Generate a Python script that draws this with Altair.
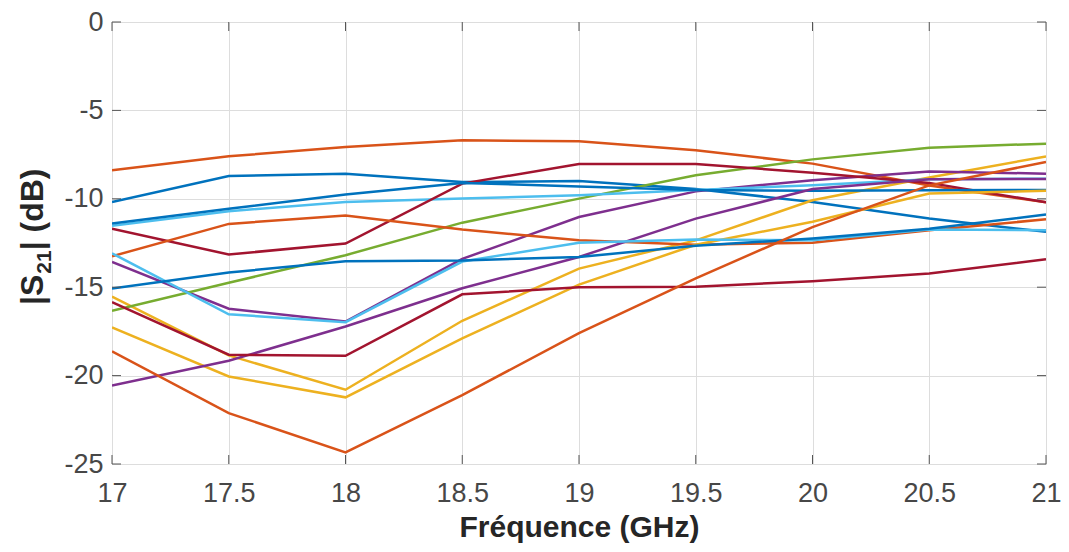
import altair as alt
import pandas as pd

freq = [17, 17.5, 18, 18.5, 19, 19.5, 20, 20.5, 21]

blue_a = [-10.18, -8.71, -8.58, -9.05, -9.0, -9.45, -10.18, -11.12, -11.87]
blue_b = [-11.4, -10.56, -9.76, -9.1, -9.3, -9.5, -9.55, -9.52, -9.5]
blue_c = [-15.08, -14.17, -13.53, -13.49, -13.29, -12.66, -12.25, -11.7, -10.89]
orange_a = [-8.39, -7.6, -7.07, -6.69, -6.75, -7.26, -8.01, -9.25, -10.2]
orange_b = [-13.25, -11.42, -10.95, -11.74, -12.34, -12.6, -12.48, -11.78, -11.16]
orange_c = [-18.63, -22.12, -24.34, -21.1, -17.6, -14.5, -11.6, -9.24, -7.92]
yellow_a = [-15.53, -18.86, -20.8, -16.9, -13.95, -12.35, -10.08, -8.8, -7.6]
yellow_b = [-17.28, -20.05, -21.23, -17.9, -14.85, -12.6, -11.3, -9.7, -9.55]
purple_a = [-13.57, -16.22, -16.94, -13.4, -11.03, -9.58, -8.95, -8.45, -8.58]
purple_b = [-20.56, -19.16, -17.22, -15.06, -13.29, -11.12, -9.45, -8.9, -8.88]
green_a = [-16.34, -14.75, -13.19, -11.35, -9.99, -8.67, -7.77, -7.11, -6.88]
lightblue_a = [-11.53, -10.7, -10.18, -9.99, -9.8, -9.5, -9.24, -8.9, -8.86]
lightblue_b = [-13.08, -16.53, -16.98, -13.55, -12.48, -12.3, -12.35, -11.74, -11.78]
darkred_a = [-11.69, -13.15, -12.53, -9.14, -8.03, -8.03, -8.52, -9.1, -10.2]
darkred_b = [-15.85, -18.82, -18.88, -15.4, -15.0, -14.97, -14.66, -14.23, -13.42]

series = {
    "blue_a": (blue_a, "#0072BD"),
    "orange_a": (orange_a, "#D95319"),
    "yellow_a": (yellow_a, "#EDB120"),
    "purple_a": (purple_a, "#7E2F8E"),
    "green_a": (green_a, "#77AC30"),
    "lightblue_a": (lightblue_a, "#4DBEEE"),
    "darkred_a": (darkred_a, "#A2142F"),
    "blue_b": (blue_b, "#0072BD"),
    "orange_b": (orange_b, "#D95319"),
    "yellow_b": (yellow_b, "#EDB120"),
    "purple_b": (purple_b, "#7E2F8E"),
    "lightblue_b": (lightblue_b, "#4DBEEE"),
    "darkred_b": (darkred_b, "#A2142F"),
    "blue_c": (blue_c, "#0072BD"),
    "orange_c": (orange_c, "#D95319"),
}

x_ticks = [17, 17.5, 18, 18.5, 19, 19.5, 20, 20.5, 21]
y_ticks = [-25, -20, -15, -10, -5, 0]

# y-axis title pieces: "|S" + subscript "21" + "| (dB)"
ytitle_parts = ["|S", "21", "| (dB)"]

rows = []
for name, (vals, col) in series.items():
    for f, v in zip(freq, vals):
        rows.append({"f": f, "s21": v, "series": name})
df = pd.DataFrame(rows)

W, H = 934, 442
FONT = "Liberation Sans"
BIG, SUB = 32, 21

xscale = alt.Scale(domain=[17, 21], nice=False, zero=False)
yscale = alt.Scale(domain=[-25, 0], nice=False, zero=False)

lines = alt.Chart(df).mark_line(strokeWidth=2.5, clip=True).encode(
    x=alt.X("f:Q", scale=xscale, title="Fréquence (GHz)",
            axis=alt.Axis(values=x_ticks, grid=True, ticks=False, tickSize=0,
                          labelPadding=16, labelFontSize=27, labelColor="#474747",
                          labelFont=FONT, labelExpr="toString(datum.value)",
                          titleFontSize=30, titleFont=FONT, titleFontWeight="bold",
                          titleColor="#262626", titleBaseline="alphabetic",
                          titleY=72, domain=False, labelFlush=False)),
    y=alt.Y("s21:Q", scale=yscale, title=None,
            axis=alt.Axis(values=y_ticks, grid=True, ticks=False, tickSize=0,
                          labelPadding=9, labelFontSize=27, labelColor="#474747",
                          labelFont=FONT, domain=False, labelFlush=False,
                          labelExpr="toString(datum.value)")),
    color=alt.Color("series:N",
                    scale=alt.Scale(domain=list(series.keys()),
                                    range=[c for _, c in series.values()]),
                    legend=None),
    detail="series:N",
)

xt = pd.DataFrame({"t": x_ticks})
yt = pd.DataFrame({"t": y_ticks})
tick_col = "#555555"
bottom_ticks = alt.Chart(xt).mark_rule(color=tick_col, strokeWidth=1).encode(
    x=alt.X("t:Q", scale=xscale), y=alt.value(H), y2=alt.value(H - 9))
top_ticks = alt.Chart(xt).mark_rule(color=tick_col, strokeWidth=1).encode(
    x=alt.X("t:Q", scale=xscale), y=alt.value(0), y2=alt.value(9))
left_ticks = alt.Chart(yt).mark_rule(color=tick_col, strokeWidth=1).encode(
    y=alt.Y("t:Q", scale=yscale), x=alt.value(0), x2=alt.value(9))
right_ticks = alt.Chart(yt).mark_rule(color=tick_col, strokeWidth=1).encode(
    y=alt.Y("t:Q", scale=yscale), x=alt.value(W - 9), x2=alt.value(W))

# rotated y-axis title built from text pieces (true subscript)
base_x = -69
start_y = 283
w1 = 0.947 * BIG
w2 = 2 * 0.556 * SUB
t1 = alt.Chart(pd.DataFrame({"t": [ytitle_parts[0]]})).mark_text(
    angle=270, align="left", baseline="alphabetic", font=FONT, fontWeight="bold",
    fontSize=BIG, color="#262626").encode(
    text="t:N", x=alt.value(base_x), y=alt.value(start_y))
t2 = alt.Chart(pd.DataFrame({"t": [ytitle_parts[1]]})).mark_text(
    angle=270, align="left", baseline="alphabetic", font=FONT, fontWeight="bold",
    fontSize=SUB, color="#262626").encode(
    text="t:N", x=alt.value(base_x + 8), y=alt.value(start_y - w1 - 1))
t3 = alt.Chart(pd.DataFrame({"t": [ytitle_parts[2]]})).mark_text(
    angle=270, align="left", baseline="alphabetic", font=FONT, fontWeight="bold",
    fontSize=BIG, color="#262626").encode(
    text="t:N", x=alt.value(base_x), y=alt.value(start_y - w1 - w2 - 1))

chart = alt.layer(lines, bottom_ticks, top_ticks, left_ticks, right_ticks,
                  t1, t2, t3).properties(
    width=W, height=H,
    autosize=alt.AutoSizeParams(type="none"),
    padding={"left": 104, "top": 14, "right": 15, "bottom": 80},
).configure_view(
    stroke="#555555", strokeWidth=1
).configure_axis(
    gridColor="#e8e8e8", gridWidth=1
).configure(background="white")

chart.save("out.html", embed_options={"renderer": "svg", "actions": False})
